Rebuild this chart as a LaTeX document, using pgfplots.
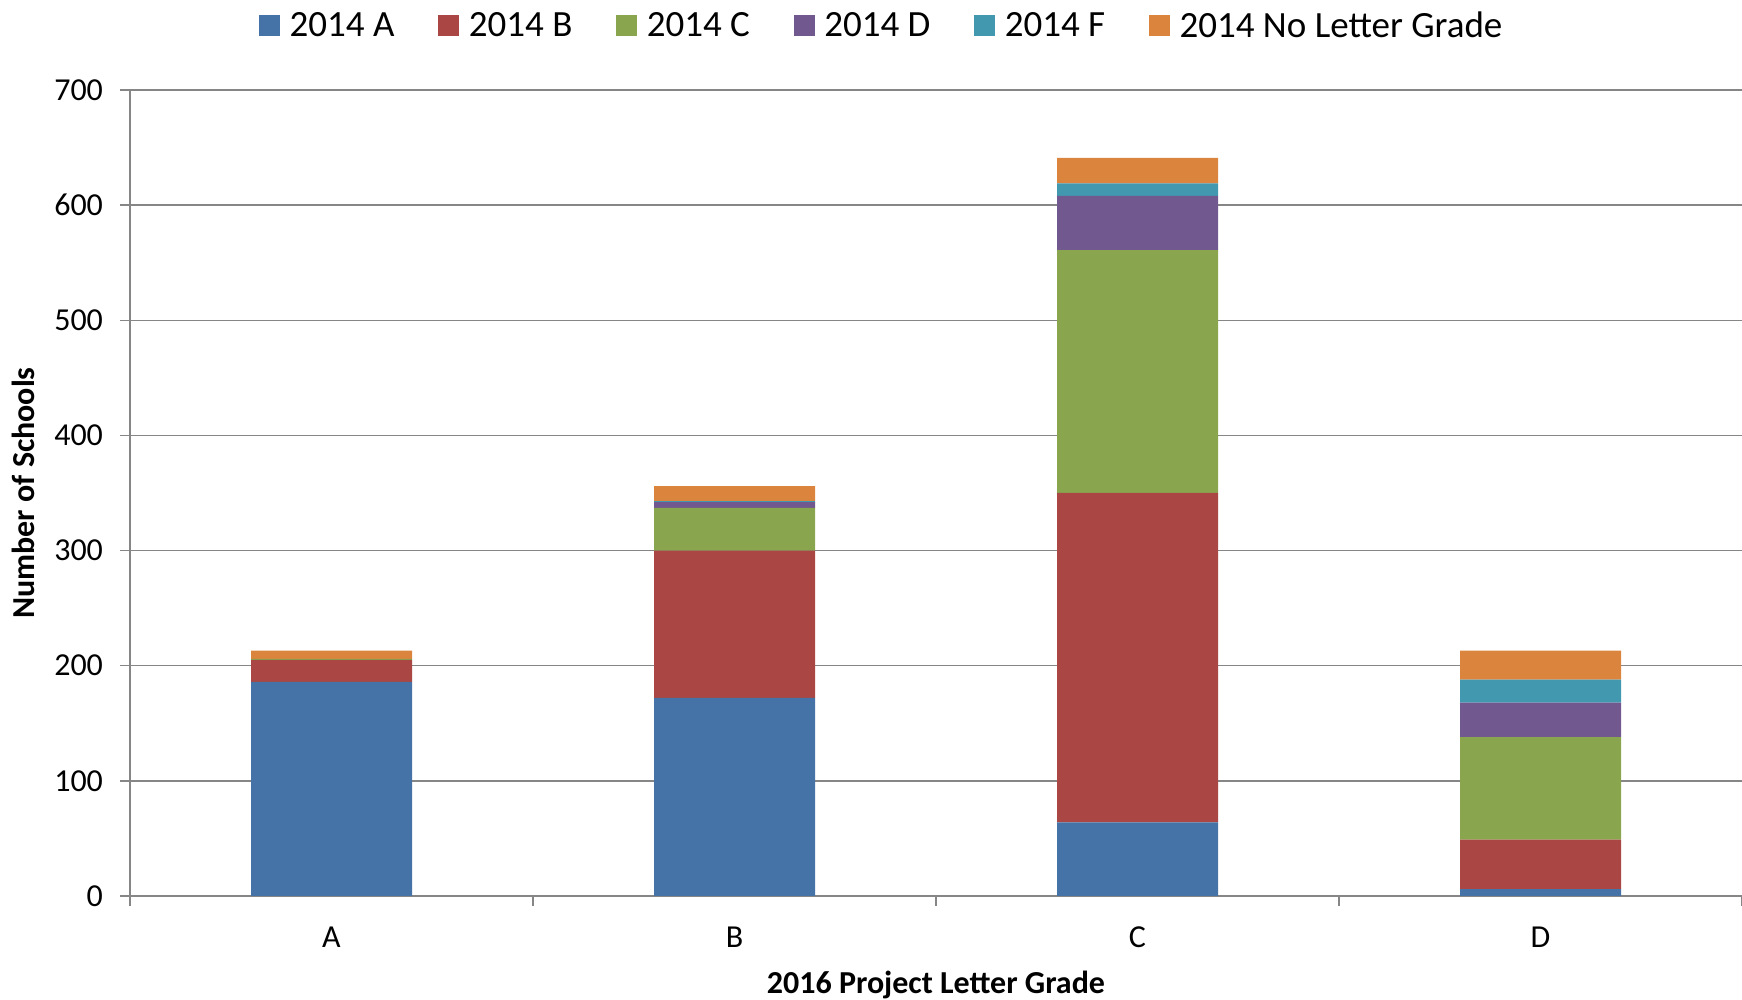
\documentclass[border=0pt]{standalone}
\usepackage{fontspec}
\setmainfont{Carlito}
\usepackage{pgfplots}
\pgfplotsset{compat=1.18}
\definecolor{cA}{HTML}{4572A7}
\definecolor{cB}{HTML}{AA4643}
\definecolor{cC}{HTML}{89A54E}
\definecolor{cD}{HTML}{71588F}
\definecolor{cF}{HTML}{4198AF}
\definecolor{cN}{HTML}{DB843D}
\definecolor{gridgray}{HTML}{868686}
\pgfplotstableread{
x A B C D F N
0 186 19 1 0 0 7
1 172 128 37 5 1 13
2 64 286 211 47 11 22
3 6 43 89 30 20 25
}\grades
\begin{document}
\begin{tikzpicture}
\begin{axis}[
  scale only axis, width=806pt, height=403pt,
  xmin=-0.5, xmax=3.5, ymin=0, ymax=700,
  ybar stacked, bar width=80.5pt,
  xtick={-0.5,0.5,1.5,2.5,3.5}, xticklabels={A,B,C,D},
  x tick label as interval,
  ytick={0,100,...,700},
  ymajorgrids, grid style={draw=gridgray, line width=0.7pt},
  axis x line=bottom, axis y line=left,
  axis line style={-, draw=gridgray, line width=0.7pt},
  tick style={draw=gridgray, line width=0.7pt},
  tick align=outside, major tick length=5pt,
  /pgf/number format/assume math mode=true,
  ticklabel style={font=\fontsize{16}{19}\selectfont},
  yticklabel style={xshift=-5pt},
  xticklabel style={yshift=-7pt},
  xlabel={\textbf{2016 Project Letter Grade}},
  ylabel={\textbf{Number of Schools}},
  label style={font=\fontsize{16}{19}\selectfont},
  xlabel style={at={(axis description cs:0.5,-0.11)}, anchor=center},
  ylabel style={at={(axis description cs:-0.0664,0.5)}, anchor=center},
  legend columns=-1,
  legend style={at={(axis description cs:0.467,1.0794)}, anchor=center, draw=none,
    font=\fontsize{18.5}{22}\selectfont,
    /tikz/every odd column/.append style={column sep=2.7pt},
    /tikz/every even column/.append style={column sep=20pt}},
  every axis plot post/.append style={draw=none,
    legend image code/.code={\fill[##1] (0pt,-5.25pt) rectangle (10.5pt,5.25pt);}},
]
\addplot[fill=cA] table[x=x,y=A]{\grades};
\addplot[fill=cB] table[x=x,y=B]{\grades};
\addplot[fill=cC] table[x=x,y=C]{\grades};
\addplot[fill=cD] table[x=x,y=D]{\grades};
\addplot[fill=cF] table[x=x,y=F]{\grades};
\addplot[fill=cN] table[x=x,y=N]{\grades};
\legend{2014 A,2014 B,2014 C,2014 D,2014 F,2014 No Letter Grade}
\end{axis}
\pgfresetboundingbox
\path (current axis.south west) ++(-65pt,-52pt) rectangle ++(871pt,500pt);
\end{tikzpicture}
\end{document}
